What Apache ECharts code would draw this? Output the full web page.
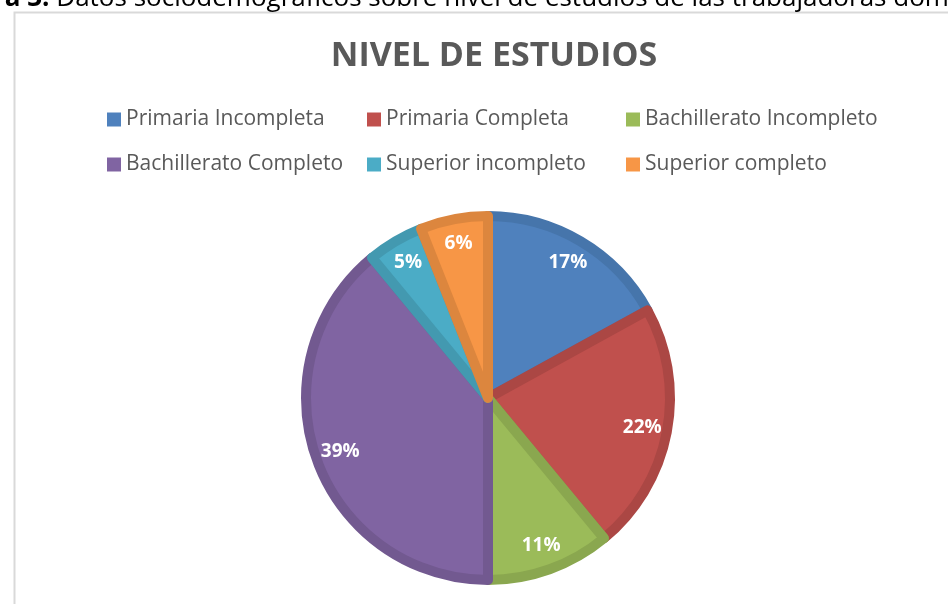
<!DOCTYPE html>
<html>
<head>
<meta charset="utf-8">
<script src="https://cdn.jsdelivr.net/npm/echarts@6/dist/echarts.min.js"></script>
<style>
html,body{margin:0;padding:0;background:#fff;}
#c{width:948px;height:604px;}
</style>
</head>
<body>
<div id="c"></div>
<script>
const categories = ['Primaria Incompleta','Primaria Completa','Bachillerato Incompleto','Bachillerato Completo','Superior incompleto','Superior completo'];
const values = [17, 22, 11, 39, 5, 6];
const fillColors = ['#4f81bd','#c0504d','#9bbb59','#8064a2','#4bacc6','#f79646'];
const bandColors = ['#4675ab','#ab4744','#8aa74f','#725990','#4399b0','#dc863e'];
const titleText = 'NIVEL DE ESTUDIOS';
const captionBold = 'Figura 3.';
const captionText = ' Datos sociodemográficos sobre nivel de estudios de las trabajadoras domésticas';

const font = '"Open Sans", Lato, sans-serif';
const chart = echarts.init(document.getElementById('c'), null, {renderer:'canvas'});

const mainData = categories.map((n,i)=>({
  name:n, value:values[i],
  itemStyle:{color:fillColors[i], borderColor:bandColors[i], borderWidth:10}
}));
const labelData = categories.map((n,i)=>({name:n+' ', value:values[i]}));

const colLeft = [107, 367, 626];
const rowTop = [109, 154];
const legends = categories.map((n,i)=>({
  data:[n], left:colLeft[i%3], top:rowTop[Math.floor(i/3)], orient:'horizontal', padding:0,
  icon:'rect', itemWidth:14, itemHeight:14, itemGap:5, selectedMode:false,
  itemStyle:{borderWidth:0},
  textStyle:{fontFamily:font, fontSize:21, color:'#595959', padding:[0,0,0,0]}
}));

chart.setOption({
  animation:false,
  backgroundColor:'#ffffff',
  title:{text:titleText, left:489, textAlign:'center', top:34,
    textStyle:{fontFamily:font, fontWeight:'bold', fontSize:34, color:'#595959'}},
  graphic:[
    {type:'rect', left:12, top:10, shape:{width:1000, height:1000},
     style:{fill:'none', stroke:'#d9d9d9', lineWidth:2}, silent:true},
    {type:'text', left:-61, top:-14, silent:true,
     style:{text:'{b|'+captionBold+'}'+captionText, font:'26px '+font, fill:'#000',
       rich:{b:{fontWeight:'bold', fontSize:26, fontFamily:font, fill:'#000'}}}}
  ],
  legend:legends,
  series:[
    {type:'pie', center:[488,398], radius:[0,182], startAngle:90, clockwise:true,
     silent:true, label:{show:false}, labelLine:{show:false}, emphasis:{disabled:true},
     data:mainData},
    {type:'pie', center:[488,398], radius:[122,186], startAngle:90, clockwise:true,
     silent:true, emphasis:{disabled:true}, itemStyle:{color:'rgba(0,0,0,0)'},
     label:{show:true, position:'inside', formatter:'{c}%', color:'#fff',
       fontFamily:font, fontWeight:'bold', fontSize:19},
     labelLine:{show:false}, data:labelData}
  ]
});
</script>
</body>
</html>
